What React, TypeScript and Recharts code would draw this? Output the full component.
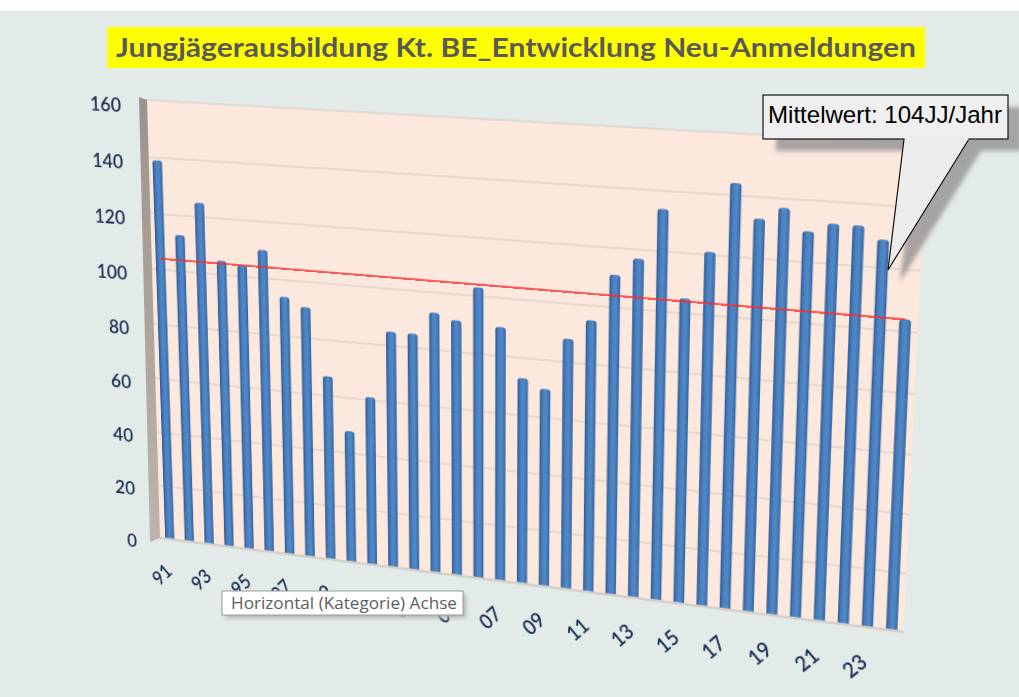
import React from 'react';
import { BarChart, Bar, XAxis, YAxis, CartesianGrid, ReferenceLine } from 'recharts';

const years = ['91','92','93','94','95','96','97','98','99','00','01','02','03','04','05','06','07','08','09','10','11','12','13','14','15','16','17','18','19','20','21','22','23','24'];
const anmeldungen = [139,113,125,105,104,110,94,91,67,48,61,85,85,93,91,103,90,73,70,88,95,111,117,134,105,121,144,133,137,130,133,133,129,104];
const yTicks = [0,20,40,60,80,100,120,140,160];
const mittelwert = 104;
const titleText = 'Jungjägerausbildung Kt. BE_Entwicklung Neu-Anmeldungen';
const calloutText = 'Mittelwert: 104JJ/Jahr';
const tooltipText = 'Horizontal (Kategorie) Achse';

const data = years.map((y, i) => ({ jahr: y, wert: anmeldungen[i] }));

// source plot rectangle inside the chart svg
const CW = 1000, CH = 700;
const M = { top: 100, right: 80, bottom: 100, left: 90 };
const YW = 60, XH = 60;
const sx0 = M.left + YW, sy0 = M.top;
const sw = CW - M.right - sx0, sh = CH - M.bottom - XH - sy0;
// perspective target quad (TL, TR, BR, BL)
const quad = [[145, 100], [926, 144], [904, 632], [160, 538]];

function homography() {
  const [x0, y0] = quad[0], [x1, y1] = quad[1], [x2, y2] = quad[2], [x3, y3] = quad[3];
  const sx = x0 - x1 + x2 - x3, sy = y0 - y1 + y2 - y3;
  const dx1 = x1 - x2, dx2 = x3 - x2, dy1 = y1 - y2, dy2 = y3 - y2;
  const det = dx1 * dy2 - dx2 * dy1;
  const g = (sx * dy2 - dx2 * sy) / det, h = (dx1 * sy - sx * dy1) / det;
  const a = x1 - x0 + g * x1, b = x3 - x0 + h * x3, c = x0;
  const d = y1 - y0 + g * y1, e = y3 - y0 + h * y3, f = y0;
  const A = a / sw, B = b / sh, C = c - A * sx0 - B * sy0;
  const D = d / sw, E = e / sh, F = f - D * sx0 - E * sy0;
  const G = g / sw, H = h / sh, I = 1 - G * sx0 - H * sy0;
  return `matrix3d(${A},${D},0,${G},${B},${E},0,${H},0,0,1,0,${C},${F},0,${I})`;
}

const LABEL_COLOR = '#1B3057';

const XTick = (props: any) => {
  const { x, y, payload } = props;
  const tx = x - 11, ty = y + 38;
  return (
    <text x={tx} y={ty} transform={`rotate(-45 ${tx} ${ty})`} textAnchor="middle" dominantBaseline="central"
      fontSize={20} fontWeight={600} fill={LABEL_COLOR} fontFamily="Lato, sans-serif">{payload.value}</text>
  );
};

const YTick = (props: any) => {
  const { x, y, payload } = props;
  return (
    <text x={x} y={y + 5} textAnchor="end" dominantBaseline="central"
      fontSize={20} fontWeight={600} fill={LABEL_COLOR} fontFamily="Lato, sans-serif">{payload.value}</text>
  );
};

export default function App() {
  return (
    <div style={{ position: 'absolute', left: 0, top: 0, width: 1019, height: 697, background: '#E3EBE8', overflow: 'hidden', fontFamily: 'Lato, sans-serif' }}>
      <div style={{ position: 'absolute', left: 0, top: 0, width: 1019, height: 11, background: '#FFFFFF' }} />
      <div style={{ position: 'absolute', left: 0, top: 0, width: CW, height: CH, transformOrigin: '0 0', transform: homography() }}>
        <BarChart width={CW} height={CH} data={data} margin={M} barCategoryGap="10%">
          <defs>
            <linearGradient id="barGrad" x1="0" y1="0" x2="1" y2="0">
              <stop offset="0" stopColor="#2B5890" />
              <stop offset="0.3" stopColor="#4A80C0" />
              <stop offset="0.65" stopColor="#5088C8" />
              <stop offset="1" stopColor="#33629E" />
            </linearGradient>
          </defs>
          <CartesianGrid vertical={false} stroke="#D3C9C3" fill="#FCE8DD" fillOpacity={1} />
          <XAxis dataKey="jahr" height={XH} interval={1} tickSize={0} tickMargin={0}
            axisLine={{ stroke: '#D2CECA', strokeWidth: 2.5 }} tick={<XTick />} />
          <YAxis width={YW} domain={[0, 160]} ticks={yTicks} tickSize={0} tickMargin={27} axisLine={false}
            tick={<YTick />} />
          <Bar dataKey="wert" fill="url(#barGrad)" barSize={10.5} radius={[3, 3, 0, 0]} isAnimationActive={false} />
          <ReferenceLine segment={[{ x: years[0], y: mittelwert }, { x: years[years.length - 1], y: mittelwert }]}
            stroke="#FF2A2A" strokeWidth={1.6} />
        </BarChart>
      </div>
      <svg width={1019} height={697} style={{ position: 'absolute', left: 0, top: 0, pointerEvents: 'none' }}>
        <defs>
          <linearGradient id="sideWall" x1="0" y1="0" x2="0" y2="1">
            <stop offset="0" stopColor="#9C938A" />
            <stop offset="1" stopColor="#BDB4AB" />
          </linearGradient>
          <filter id="blur3"><feGaussianBlur stdDeviation="2" /></filter>
        </defs>
        <polygon points="139,97 147,100 160,538 150,542" fill="url(#sideWall)" />
        <rect x={107} y={27} width={818} height={41} fill="#FFFF00" />
        <text x={516} y={57} textAnchor="middle" fontSize={27} fontWeight={700} fill="#595959"
          fontFamily="Lato, sans-serif" textLength={800} lengthAdjust="spacingAndGlyphs">{titleText}</text>
        {/* callout */}
        <g filter="url(#blur3)" opacity={0.75}>
          <rect x={776} y={107} width={245} height={44} fill="#8E8E8E" />
          <polygon points="916,151 981,151 900,282" fill="#8E8E8E" />
        </g>
        <polygon points="904,139 969,139 888,270" fill="#ECECEC" />
        <polyline points="904,139 888,270 969,139" fill="none" stroke="#111" strokeWidth={1.2} />
        <rect x={763} y={95} width={245} height={44} fill="#EFEFEF" stroke="#111" strokeWidth={1.2} />
        <rect x={904.6} y={138} width={63.8} height={2} fill="#ECECEC" />
        <text x={768} y={123} fontSize={24} fill="#000" fontFamily="'Liberation Sans', Arial, sans-serif"
          textLength={234} lengthAdjust="spacingAndGlyphs">{calloutText}</text>
        {/* tooltip */}
        <rect x={225} y={594} width={241} height={24} fill="#B5B5B5" filter="url(#blur3)" />
        <rect x={222} y={591} width={241} height={24} fill="#FFFFFF" stroke="#9A9A9A" strokeWidth={1} />
        <text x={231} y={609} fontSize={16} fill="#5E5E5E" fontFamily="'Open Sans', sans-serif"
          textLength={226} lengthAdjust="spacingAndGlyphs">{tooltipText}</text>
      </svg>
    </div>
  );
}
